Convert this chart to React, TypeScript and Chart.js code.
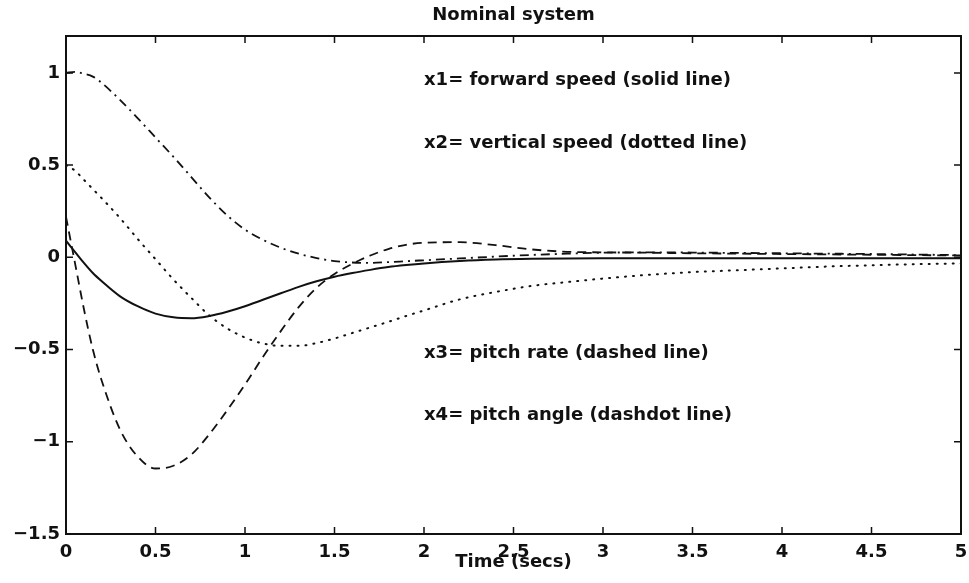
import React, { useEffect, useRef } from 'react';
import { Chart, registerables } from 'chart.js';

Chart.register(...registerables);

const times = [0, 0.05, 0.1, 0.15, 0.2, 0.3, 0.4, 0.5, 0.6, 0.7, 0.8, 0.9, 1.0, 1.1, 1.2, 1.3, 1.4, 1.5, 1.6, 1.7, 1.8, 1.9, 2.0, 2.2, 2.4, 2.6, 2.8, 3.0, 3.25, 3.5, 3.75, 4.0, 4.25, 4.5, 4.75, 5.0];

const forwardSpeed = [0.09, 0.03, -0.03, -0.085, -0.13, -0.21, -0.265, -0.305, -0.325, -0.33, -0.318, -0.295, -0.265, -0.23, -0.195, -0.16, -0.13, -0.105, -0.085, -0.068, -0.053, -0.042, -0.033, -0.02, -0.012, -0.008, -0.006, -0.005, -0.005, -0.005, -0.005, -0.005, -0.005, -0.005, -0.005, -0.005];

const verticalSpeed = [0.5, 0.47, 0.42, 0.37, 0.32, 0.215, 0.1, -0.01, -0.12, -0.22, -0.315, -0.385, -0.435, -0.467, -0.48, -0.48, -0.465, -0.44, -0.41, -0.38, -0.35, -0.318, -0.288, -0.228, -0.188, -0.155, -0.134, -0.115, -0.095, -0.08, -0.07, -0.06, -0.05, -0.043, -0.037, -0.033];

const pitchRate = [0.22, -0.03, -0.28, -0.5, -0.67, -0.93, -1.08, -1.145, -1.13, -1.07, -0.96, -0.83, -0.69, -0.54, -0.4, -0.27, -0.165, -0.09, -0.035, 0.01, 0.045, 0.068, 0.079, 0.082, 0.066, 0.043, 0.03, 0.027, 0.025, 0.022, 0.02, 0.018, 0.016, 0.014, 0.012, 0.01];

const pitchAngle = [1.0, 1.005, 0.995, 0.98, 0.945, 0.855, 0.755, 0.65, 0.545, 0.435, 0.325, 0.228, 0.15, 0.095, 0.052, 0.02, -0.004, -0.02, -0.028, -0.03, -0.026, -0.021, -0.016, -0.006, 0.004, 0.013, 0.02, 0.025, 0.027, 0.026, 0.024, 0.022, 0.02, 0.018, 0.015, 0.012];

const titleText = 'Nominal system';
const xAxisTitle = 'Time (secs)';
const annotationTexts = [
  'x1= forward speed (solid line)',
  'x2= vertical speed (dotted line)',
  'x3= pitch rate (dashed line)',
  'x4= pitch angle (dashdot line)',
];

const FONT = '"DejaVu Sans", "Liberation Sans", sans-serif';
const INK = '#111111';

const toPoints = (ys: number[]) => times.map((t, i) => ({ x: t, y: ys[i] }));

const framePlugin = {
  id: 'matlabFrame',
  afterDraw(chart: any) {
    const { ctx, chartArea: a, scales } = chart;
    const xs = scales.x;
    const ys = scales.y;
    ctx.save();
    ctx.strokeStyle = INK;
    ctx.lineWidth = 2;
    ctx.strokeRect(a.left, a.top, a.right - a.left, a.bottom - a.top);
    ctx.lineWidth = 1.5;
    const tl = 7;
    ctx.beginPath();
    xs.ticks.forEach((t: any) => {
      const px = xs.getPixelForValue(t.value);
      ctx.moveTo(px, a.bottom);
      ctx.lineTo(px, a.bottom - tl);
      ctx.moveTo(px, a.top);
      ctx.lineTo(px, a.top + tl);
    });
    ys.ticks.forEach((t: any) => {
      const py = ys.getPixelForValue(t.value);
      ctx.moveTo(a.left, py);
      ctx.lineTo(a.left + tl, py);
      ctx.moveTo(a.right, py);
      ctx.lineTo(a.right - tl, py);
    });
    ctx.stroke();

    ctx.fillStyle = INK;
    ctx.font = `bold 18px ${FONT}`;
    ctx.textAlign = 'center';
    ctx.textBaseline = 'middle';
    ctx.fillText(titleText, (a.left + a.right) / 2, 15);

    ctx.textAlign = 'left';
    const annX = xs.getPixelForValue(2.0);
    const annY = [0.962, 0.62, -0.522, -0.859];
    annotationTexts.forEach((txt, i) => {
      ctx.fillText(txt, annX, ys.getPixelForValue(annY[i]));
    });
    ctx.restore();
  },
};

export default function App() {
  const canvasRef = useRef<HTMLCanvasElement | null>(null);

  useEffect(() => {
    if (!canvasRef.current) return;
    const line = (data: number[], dash: number[], width: number, cap: CanvasLineCap) => ({
      data: toPoints(data),
      borderColor: INK,
      borderWidth: width,
      borderDash: dash,
      borderCapStyle: cap,
      pointRadius: 0,
      fill: false,
      tension: 0.4,
      cubicInterpolationMode: 'monotone' as const,
      showLine: true,
    });
    const tickFmt = (v: any) => {
      const n = Number(v);
      const s = String(Math.round(n * 100) / 100);
      return s.replace('-', '\u2212');
    };
    const chart = new Chart(canvasRef.current, {
      type: 'scatter',
      data: {
        datasets: [
          { label: 'x1', ...line(forwardSpeed, [], 2, 'butt') },
          { label: 'x2', ...line(verticalSpeed, [1, 7], 2, 'round') },
          { label: 'x3', ...line(pitchRate, [9, 6], 1.8, 'butt') },
          { label: 'x4', ...line(pitchAngle, [9, 5, 2, 5], 1.8, 'butt') },
        ],
      },
      options: {
        animation: false,
        responsive: false,
        devicePixelRatio: 1,
        layout: { padding: { left: 0, right: 8, top: 36, bottom: 0 } },
        plugins: {
          legend: { display: false },
          tooltip: { enabled: false },
          title: { display: false },
        },
        scales: {
          x: {
            type: 'linear',
            min: 0,
            max: 5,
            grid: { display: false, drawTicks: false },
            border: { display: false },
            ticks: {
              stepSize: 0.5,
              padding: 8,
              color: INK,
              font: { family: FONT, size: 18, weight: 'bold' },
              callback: tickFmt,
              maxRotation: 0,
              autoSkip: false,
            },
            title: {
              display: true,
              text: xAxisTitle,
              color: INK,
              font: { family: FONT, size: 18, weight: 'bold' },
              padding: { top: 0, bottom: 10 },
            },
            afterFit: (s: any) => {
              s.height = 49;
              s.paddingLeft = 0;
              s.paddingRight = 0;
            },
          },
          y: {
            type: 'linear',
            min: -1.5,
            max: 1.2,
            grid: { display: false, drawTicks: false },
            border: { display: false },
            ticks: {
              stepSize: 0.5,
              padding: 6,
              color: INK,
              font: { family: FONT, size: 18, weight: 'bold' },
              callback: tickFmt,
              autoSkip: false,
            },
            afterBuildTicks: (s: any) => {
              s.ticks = s.ticks.filter((t: any) => Math.abs(t.value * 2 - Math.round(t.value * 2)) < 1e-9);
            },
            afterFit: (s: any) => {
              s.width = 66;
              s.paddingTop = 0;
              s.paddingBottom = 0;
            },
          },
        },
      },
      plugins: [framePlugin],
    });
    return () => chart.destroy();
  }, []);

  return (
    <div style={{ position: 'fixed', left: 0, top: 0, width: 969, height: 583, background: '#fff' }}>
      <canvas ref={canvasRef} width={969} height={583} style={{ display: 'block' }} />
    </div>
  );
}
